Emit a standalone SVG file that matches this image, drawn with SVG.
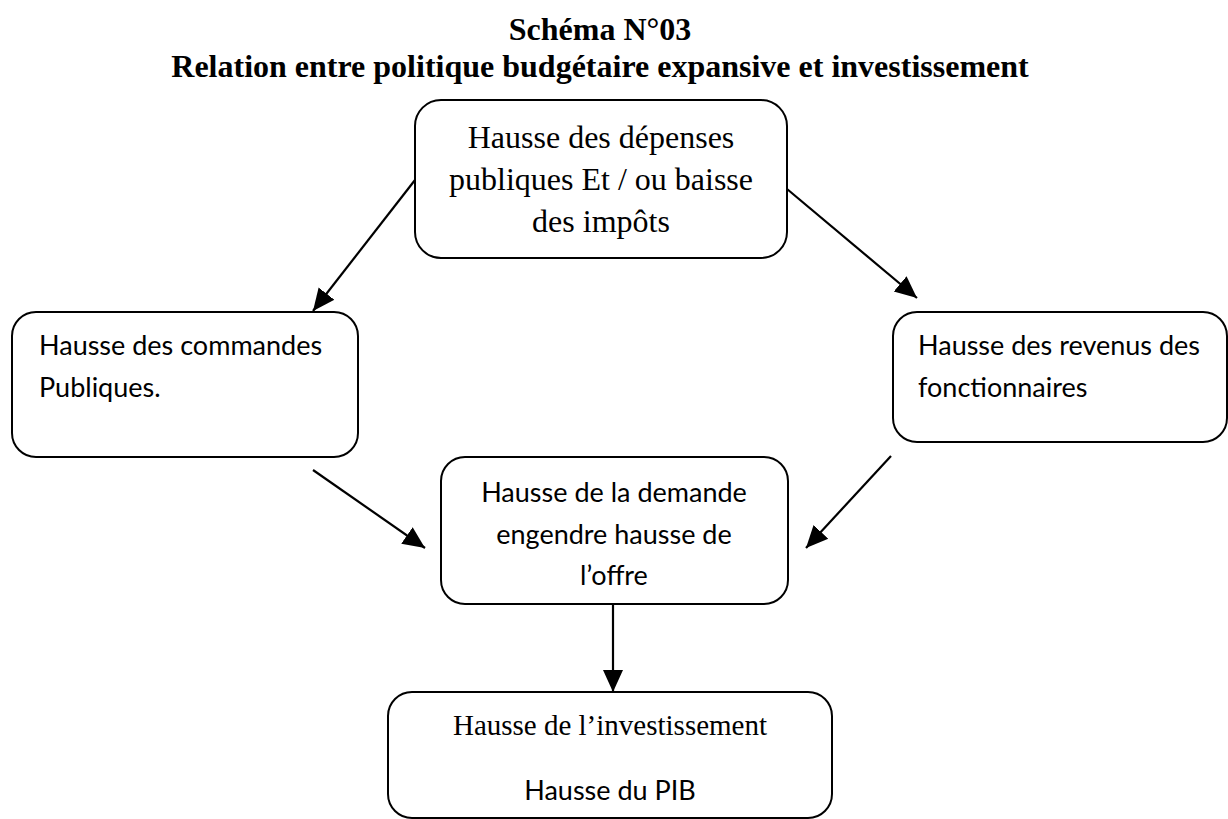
<svg xmlns="http://www.w3.org/2000/svg" width="1228" height="819" viewBox="0 0 1228 819">
<style>
.box{fill:#fff;stroke:#000;stroke-width:2}
.title{font-family:"Liberation Serif","Times New Roman",serif;font-weight:bold;font-size:32px;fill:#000;text-anchor:middle}
.serif{font-family:"Liberation Serif","Times New Roman",serif;font-size:32px;fill:#000}
.serif-sm{font-family:"Liberation Serif","Times New Roman",serif;font-size:29px;fill:#000}
.sans{font-family:Lato,"Open Sans",sans-serif;font-size:27px;fill:#000}
.mid{text-anchor:middle}
.conn{stroke:#000;stroke-width:2.2;fill:none;marker-end:url(#ah)}
</style>
<defs>
<marker id="ah" markerUnits="userSpaceOnUse" markerWidth="24" markerHeight="22" viewBox="0 0 24 22" refX="22" refY="11" orient="auto">
<path d="M0,1 L22,11 L0,21 Z" fill="#000"/>
</marker>
</defs>
<rect width="1228" height="819" fill="#fff"/>
<g id="title">
<text class="title" x="600" y="40">Schéma N°03</text>
<text class="title" x="600" y="77">Relation entre politique budgétaire expansive et investissement</text>
</g>
<g id="connectors">
<line class="conn" x1="415" y1="180" x2="313" y2="311"/>
<line class="conn" x1="787" y1="189" x2="917" y2="298"/>
<line class="conn" x1="313" y1="470" x2="425" y2="548"/>
<line class="conn" x1="891" y1="456" x2="806" y2="548"/>
<line class="conn" x1="613" y1="604" x2="613" y2="692"/>
</g>
<g id="node-top">
<rect class="box" x="415" y="100" width="372" height="158" rx="26"/>
<text class="serif mid" x="601" y="148">Hausse des dépenses</text>
<text class="serif mid" x="601" y="190">publiques Et / ou baisse</text>
<text class="serif mid" x="601" y="232">des impôts</text>
</g>
<g id="node-left">
<rect class="box" x="12" y="312" width="346" height="145" rx="24"/>
<text class="sans" x="39" y="355">Hausse des commandes</text>
<text class="sans" x="39" y="397">Publiques.</text>
</g>
<g id="node-right">
<rect class="box" x="893" y="312" width="334" height="130" rx="24"/>
<text class="sans" x="918" y="355">Hausse des revenus des</text>
<text class="sans" x="918" y="397">fonctionnaires</text>
</g>
<g id="node-center">
<rect class="box" x="441" y="457" width="347" height="147" rx="24"/>
<text class="sans mid" x="614" y="502">Hausse de la demande</text>
<text class="sans mid" x="614" y="544">engendre hausse de</text>
<text class="sans mid" x="614" y="585">l’offre</text>
</g>
<g id="node-bottom">
<rect class="box" x="388" y="692" width="444" height="126" rx="24"/>
<text class="serif-sm mid" x="610" y="735">Hausse de l’investissement</text>
<text class="sans mid" x="610" y="800">Hausse du PIB</text>
</g>
</svg>
